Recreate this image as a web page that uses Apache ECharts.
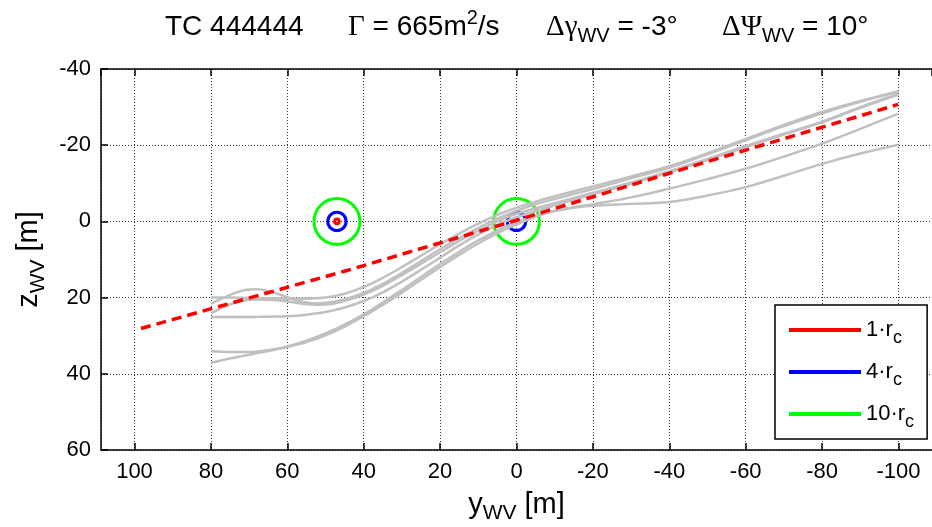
<!DOCTYPE html>
<html>
<head>
<meta charset="utf-8">
<script src="https://cdn.jsdelivr.net/npm/echarts@6/dist/echarts.min.js"></script>
<style>
  html, body { margin: 0; padding: 0; background: #fff; }
  #chart { width: 932px; height: 527px; }
</style>
</head>
<body>
<div id="chart"></div>
<script>
// Simulated wake-vortex trajectories, lateral position y_WV vs. height z_WV, in metres
const trajA = [[80,20.0],[75,20.0],[70,20.1],[65,20.2],[60,20.3],[55,20.3],[50,20.0],[45,19.0],[40,17.2],[35,14.8],[30,12.0],[25,9.0],[20,6.0],[15,3.2],[10,0.6],[5,-1.7],[0,-3.6],[-5,-5.2],[-10,-6.6],[-20,-9.2],[-30,-11.8],[-40,-14.5],[-50,-17.9],[-60,-21.6],[-70,-25.3],[-80,-28.7],[-90,-31.6],[-100,-34.2]];
const trajB = [[80,21.6],[77,20.2],[74,18.9],[71,18.0],[68,17.8],[65,18.3],[62,19.2],[59,20.3],[56,21.1],[53,21.5],[50,21.4],[45,20.5],[40,18.8],[35,16.4],[30,13.5],[25,10.4],[20,7.3],[15,4.4],[10,1.7],[5,-0.7],[0,-2.8],[-5,-4.5],[-10,-5.9],[-20,-8.5],[-30,-11.3],[-40,-14.1],[-50,-17.6],[-60,-21.3],[-70,-25.0],[-80,-28.4],[-90,-31.4],[-100,-34.0]];
const trajC = [[80,24.2],[77,22.6],[74,21.4],[71,20.7],[68,20.5],[64,20.6],[60,21.0],[56,21.6],[52,21.9],[48,21.6],[44,20.6],[40,19.2],[35,16.9],[30,14.1],[25,11.1],[20,8.1],[15,5.1],[10,2.4],[5,0],[0,-2.0],[-10,-4.8],[-20,-7.5],[-30,-10.2],[-40,-13.2],[-50,-16.4],[-60,-19.8],[-70,-23.0],[-80,-26.2],[-90,-30.0],[-100,-33.5]];
const trajD = [[80,25.1],[75,25.1],[70,25.1],[65,25.0],[60,24.9],[55,24.5],[50,23.8],[45,22.6],[40,20.9],[35,18.6],[30,15.8],[25,12.7],[20,9.5],[15,6.3],[10,3.4],[5,0.9],[0,-1.1],[-10,-4.2],[-20,-7.1],[-30,-9.9],[-40,-12.9],[-50,-16.1],[-60,-19.5],[-70,-22.8],[-80,-26.0],[-90,-29.8],[-100,-33.3]];
const trajE = [[80,34.1],[75,34.3],[70,34.3],[65,33.8],[60,32.8],[55,31.3],[50,29.4],[45,27.1],[40,24.4],[35,21.3],[30,18.0],[25,14.6],[20,11.2],[15,8.0],[10,5.0],[5,2.4],[0,0.2],[-5,-1.5],[-10,-2.8],[-15,-3.7],[-20,-4.5],[-30,-6.3],[-40,-8.6],[-50,-11.1],[-60,-13.8],[-70,-17.0],[-80,-20.4],[-90,-24.3],[-100,-28.3]];
const trajF = [[80,37.1],[75,36.0],[70,35.0],[65,34.0],[60,33.0],[55,31.7],[50,29.9],[45,27.6],[40,24.9],[35,21.9],[30,18.7],[25,15.3],[20,12.0],[15,8.8],[10,5.8],[5,3.1],[0,0.8],[-5,-1.2],[-10,-2.7],[-15,-3.6],[-20,-4.1],[-30,-4.6],[-40,-5.1],[-50,-6.8],[-60,-9.0],[-70,-12.0],[-80,-15.1],[-90,-17.8],[-100,-20.1]];
const trajectories = [trajA, trajB, trajC, trajD, trajE, trajF];

// Reference (mean) vortex path
const meanPath = [[98.3,28.1],[44.4,12.9],[0,-0.3],[-50,-15.7],[-99.9,-30.7]];

// Vortex core centres and core radius r_c (m)
const coreCentres = [[47,0],[0,0]];
const coreRadius = 0.6;
const radiusFactors = [1, 4, 10];
const radiusNames = ['1·r_c', '4·r_c', '10·r_c'];

// Axis ranges
const yWvRange = [-108.77, 108.77];
const zWvRange = [-40, 60];
const tickStep = 20;

const FONT = '"Liberation Sans", Arial, Helvetica, sans-serif';
const SERIF = '"Liberation Serif", "Times New Roman", serif';
const ringColors = { '1·r_c': '#ff0000', '4·r_c': '#0000ff', '10·r_c': '#00ff00' };

const chart = echarts.init(document.getElementById('chart'), null, { renderer: 'canvas' });

function ringSeries(k) {
  const name = radiusNames[radiusFactors.indexOf(k)];
  return {
    name: name,
    type: 'custom',
    coordinateSystem: 'cartesian2d',
    itemStyle: { color: ringColors[name] },
    encode: { x: 0, y: 1 },
    data: coreCentres.map(c => [c[0], c[1], k * coreRadius]),
    renderItem: function (params, api) {
      const c = api.coord([api.value(0), api.value(1)]);
      const r = api.size([api.value(2), 0])[0];
      return {
        type: 'circle',
        shape: { cx: c[0], cy: c[1], r: r },
        style: { fill: 'none', stroke: ringColors[name], lineWidth: 3 }
      };
    },
    silent: true
  };
}

const gridLine = { show: true, lineStyle: { color: '#333', type: [1, 2], width: 1 } };
const blackAxis = { show: true, onZero: false, lineStyle: { color: '#000', width: 1.5 } };
const innerTicks = { show: true, inside: true, length: 7, lineStyle: { color: '#000', width: 1.5 } };
const nameRich = {
  t: { fontFamily: FONT, fontSize: 29, lineHeight: 38, color: '#000' },
  s: { fontFamily: FONT, fontSize: 21, lineHeight: 6, verticalAlign: 'bottom', color: '#000' }
};
const titleRich = {
  g: { fontFamily: SERIF, fontSize: 29, lineHeight: 38 },
  t: { fontFamily: FONT, fontSize: 28, lineHeight: 38 },
  p: { fontFamily: FONT, fontSize: 20, lineHeight: 12, verticalAlign: 'top' },
  s: { fontFamily: FONT, fontSize: 20, lineHeight: 6, verticalAlign: 'bottom' }
};

const series = [];
series.push(ringSeries(10));
series.push(ringSeries(4));
trajectories.forEach((t, i) => {
  series.push({
    name: 'trajectory ' + (i + 1),
    type: 'line',
    data: t,
    smooth: 0.35,
    showSymbol: false,
    silent: true,
    lineStyle: { color: '#c0c0c0', width: 2.5 }
  });
});
series.push({
  name: 'mean path',
  type: 'line',
  data: meanPath,
  showSymbol: false,
  silent: true,
  lineStyle: { color: '#ff0000', width: 3.5, type: [10, 6] }
});
series.push(ringSeries(1));

chart.setOption({
  animation: false,
  backgroundColor: '#fff',
  grid: { left: 101, right: 0, top: 69, bottom: 77, containLabel: false, outerBoundsMode: 'none' },
  xAxis: [
    {
      type: 'value', inverse: true, position: 'bottom',
      min: yWvRange[0], max: yWvRange[1], minInterval: tickStep, maxInterval: tickStep,
      axisLine: blackAxis, axisTick: innerTicks, splitLine: gridLine,
      axisLabel: {
        color: '#000', fontFamily: FONT, fontSize: 22, margin: 11,
        showMinLabel: false, showMaxLabel: false,
        formatter: v => (Math.abs(v % tickStep) < 1e-9 ? String(v) : '')
      },
      name: '{t|y}{s|WV}{t| [m]}',
      nameLocation: 'middle', nameGap: 36,
      nameTextStyle: { rich: nameRich }
    },
    {
      type: 'value', inverse: true, position: 'top',
      min: yWvRange[0], max: yWvRange[1], minInterval: tickStep, maxInterval: tickStep,
      axisLine: blackAxis, axisTick: innerTicks, splitLine: { show: false },
      axisLabel: { show: false }
    }
  ],
  yAxis: {
    type: 'value', inverse: true,
    min: zWvRange[0], max: zWvRange[1], interval: tickStep,
    axisLine: blackAxis, axisTick: innerTicks, splitLine: gridLine,
    axisLabel: { color: '#000', fontFamily: FONT, fontSize: 22, margin: 10 },
    name: '{t|z}{s|WV}{t| [m]}',
    nameLocation: 'middle', nameGap: 48, nameRotate: 90,
    nameTextStyle: { rich: nameRich }
  },
  legend: {
    orient: 'vertical',
    left: 775, top: 305,
    padding: [14, 13, 8, 14],
    itemGap: 14,
    itemWidth: 72, itemHeight: 4,
    backgroundColor: '#fff',
    borderColor: '#000', borderWidth: 1.5, borderRadius: 0,
    selectedMode: false,
    data: radiusNames.map(n => ({ name: n, icon: 'rect' })),
    formatter: function (name) {
      const parts = name.split('_');
      return '{t|' + parts[0] + '}{s|' + parts[1] + '}';
    },
    textStyle: {
      rich: {
        t: { fontFamily: FONT, fontSize: 22, lineHeight: 34, color: '#000' },
        s: { fontFamily: FONT, fontSize: 18, lineHeight: 4, verticalAlign: 'bottom', color: '#000' }
      }
    }
  },
  graphic: [
    {
      type: 'text', x: 165, y: 27,
      style: { text: 'TC 444444', font: '28px ' + FONT, fill: '#000', verticalAlign: 'middle' }
    },
    {
      type: 'text', x: 348, y: 27,
      style: { text: '{g|Γ}{t| = 665m}{p|2}{t|/s}', verticalAlign: 'middle', fill: '#000', rich: titleRich }
    },
    {
      type: 'text', x: 546, y: 27,
      style: { text: '{g|Δγ}{s|WV}{t| = -3°}', verticalAlign: 'middle', fill: '#000', rich: titleRich }
    },
    {
      type: 'text', x: 722, y: 27,
      style: { text: '{g|ΔΨ}{s|WV}{t| = 10°}', verticalAlign: 'middle', fill: '#000', rich: titleRich }
    }
  ],
  series: series
});
</script>
</body>
</html>
